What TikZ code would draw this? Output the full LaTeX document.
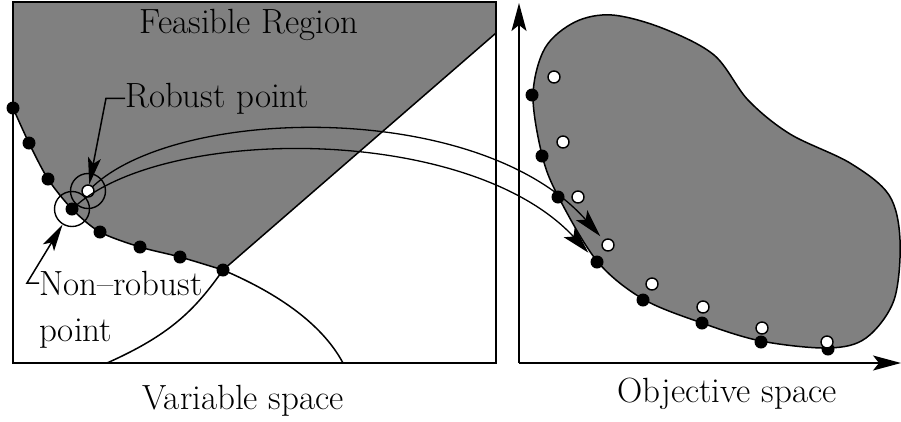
\documentclass[tikz,border=0pt]{standalone}
\usepackage{fontspec}
\usetikzlibrary{arrows.meta}
\definecolor{fgray}{RGB}{128,128,128}
\begin{document}
\begin{tikzpicture}[x=1pt,y=-1pt,
  bdot/.style={circle,fill=black,inner sep=0pt,minimum size=13pt},
  wdot/.style={circle,draw=black,fill=white,line width=1.4pt,inner sep=0pt,minimum size=12pt},
  ring/.style={circle,draw=black,line width=1.4pt,inner sep=0pt,minimum size=35pt},
  lbl/.style={inner sep=0pt,font=\fontsize{35}{42}\selectfont},
  ln/.style={line width=1.5pt},
  bigtip/.style={-{Stealth[length=28pt,width=15pt,inset=6pt]}},
  axtip/.style={-{Stealth[length=28pt,width=15pt,inset=6pt]}},
  ptip/.style={-{Stealth[length=27pt,width=13pt,inset=6pt]}},
]
\useasboundingbox (0,0) rectangle (901,421);

% ---------- Variable space ----------
\fill[fgray] (13,2) -- (496,2) -- (496,33) -- plot[smooth] coordinates {(223,270) (180,257) (140,247) (100,232) (72,209) (48,179) (29,143) (13,108)} -- cycle;
\draw[ln] plot[smooth] coordinates {(223,270) (180,257) (140,247) (100,232) (72,209) (48,179) (29,143) (13,108)};
\draw[ln] (496,33) -- (223,270);
\draw[ln] (223,270) .. controls (195,310) and (170,335) .. (107,363);
\draw[ln] (223,270) .. controls (270,290) and (320,320) .. (343,363);
\draw[ln] (13,2) rectangle (496,363);

\node[ring] (rc) at (88,191) {};
\node[ring] (nrc) at (72,209) {};

\node[bdot] (l1) at (13,108) {};
\node[bdot] (l2) at (29,143) {};
\node[bdot] (l3) at (48,179) {};
\node[bdot] (nr) at (72,209) {};
\node[bdot] (l5) at (100,232) {};
\node[bdot] (l6) at (140,247) {};
\node[bdot] (l7) at (180,257) {};
\node[bdot] (l8) at (223,270) {};
\node[wdot] (rp) at (88,191) {};

\node[lbl,anchor=base] (feas) at (249,33) {Feasible Region};
\node[lbl,anchor=base west] (rlab) at (125,107) {Robust point};
\node[lbl,anchor=base west] (nlab) at (39,295) {Non--robust};
\node[lbl,anchor=base west] (nlab2) at (39,341) {point};
\node[lbl,anchor=base] (vs) at (243,409) {Variable space};

\draw[ln,ptip] (rlab.west) -- ++(-19,0) -- (rp);
\draw[ln,ptip] (nlab.west) -- ++(-12,0) -- (nrc);

% ---------- Objective space ----------
\coordinate (O) at (519,363);
\coordinate (ytop) at (519,3);
\coordinate (xend) at (901,363);

\filldraw[fill=fgray,draw=black,ln] plot[smooth cycle,tension=0.55] coordinates {
  (545,48) (575,22) (612,15) (662,28) (714,55) (748,100) (790,134)
  (850,163) (889,195) (900,240) (894,300) (866,338) (828,348)
  (761,341) (702,323) (643,299) (597,261) (558,196) (542,155) (533,95)};

\draw[ln,axtip] (O) -- (ytop);
\draw[ln,axtip] (O) -- (xend);

\node[bdot] (b1) at (532,95) {};
\node[bdot] (b2) at (542,156) {};
\node[bdot] (b3) at (558,197) {};
\node[bdot] (b4) at (597,262) {};
\node[bdot] (b5) at (643,300) {};
\node[bdot] (b6) at (702,323) {};
\node[bdot] (b7) at (761,342) {};
\node[bdot] (b8) at (828,349) {};

\node[wdot] (w1) at (554,77) {};
\node[wdot] (w2) at (563,142) {};
\node[wdot] (w3) at (578,197) {};
\node[wdot] (w4) at (608,245) {};
\node[wdot] (w5) at (652,284) {};
\node[wdot] (w6) at (703,307) {};
\node[wdot] (w7) at (762,328) {};
\node[wdot] (w8) at (827,342) {};

\node[lbl,anchor=base] (os) at (727,402) {Objective space};

% ---------- mapping arrows ----------
\draw[line width=1.3pt,bigtip,shorten >=5pt] (rp) .. controls (180,105) and (480,100) .. (w4);
\draw[line width=1.3pt,bigtip,shorten >=6pt] (nr) .. controls (170,125) and (470,125) .. (b4);
\end{tikzpicture}
\end{document}
